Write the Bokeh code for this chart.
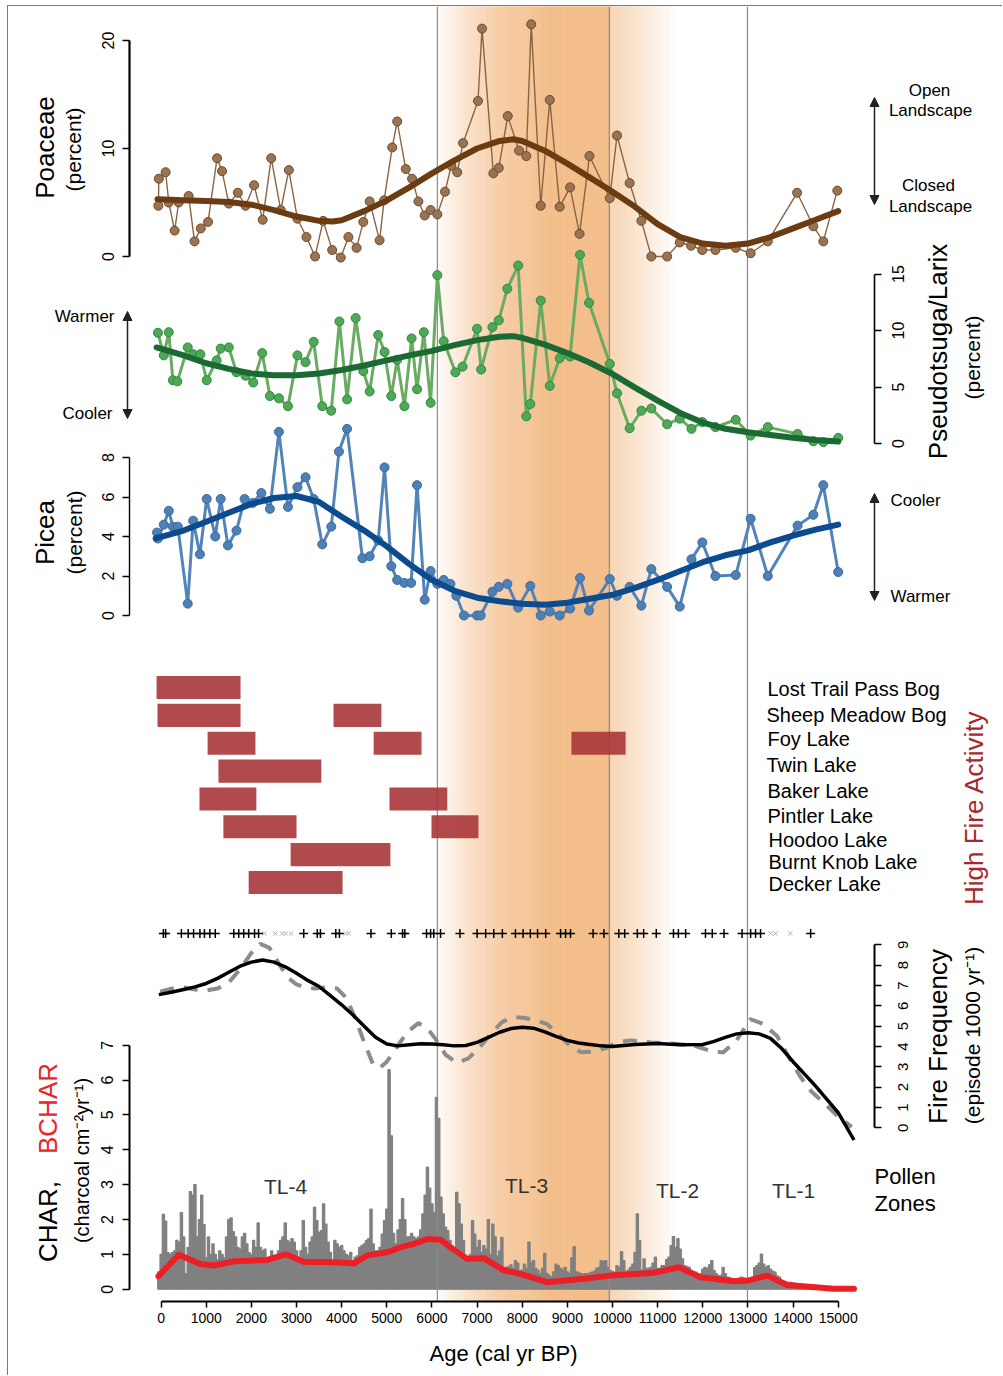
import math
import numpy as np
from bokeh.plotting import figure
from bokeh.models import Range1d, LinearAxis, FixedTicker, Label, Arrow, NormalHead
from bokeh.embed import file_html
from bokeh.resources import INLINE

FONT = "Liberation Sans"

# ======================= DATA =======================
# Poaceae (percent)
poa_age = [-60, -50, 100, 170, 300, 390, 610, 740, 880, 1040, 1240, 1350, 1500, 1700, 1870,
           2060, 2250, 2440, 2650, 2830, 3020, 3220, 3410, 3590, 3790, 3980, 4150, 4330, 4480,
           4620, 4840, 4940, 5120, 5230, 5420, 5560, 5700, 5840, 5970, 6120, 6290, 6430, 6560,
           6690, 7020, 7110, 7360, 7480, 7680, 7930, 8090, 8200, 8410, 8610, 8830, 9060, 9270,
           9490, 9940, 10100, 10380, 10640, 10860, 11210, 11490, 11740, 11990, 12280, 12730,
           13060, 13440, 14090, 14450, 14670, 14980]
poa_val = [4.7, 7.2, 7.8, 5.0, 2.4, 5.0, 5.6, 1.4, 2.6, 3.2, 9.1, 7.9, 4.9, 5.9, 4.7,
           6.6, 3.4, 9.1, 4.3, 8.0, 3.5, 1.8, 0.0, 3.3, 0.6, -0.1, 1.8, 0.8, 3.2,
           5.1, 1.5, 5.2, 10.1, 12.5, 8.1, 7.2, 5.1, 3.8, 4.3, 3.9, 6.0, 8.4, 7.8,
           10.5, 14.4, 21.1, 7.7, 8.2, 13.0, 9.8, 9.3, 21.5, 4.7, 14.5, 4.6, 6.4, 2.1,
           9.3, 5.4, 11.2, 6.8, 3.3, 0.0, 0.0, 1.3, 1.0, 0.6, 0.6, 0.8,
           0.3, 1.4, 5.9, 2.8, 1.4, 6.1]
poa_s_age = [-80, 500, 1000, 1500, 2000, 2500, 3000, 3500, 3800, 4000, 4500, 5000, 5500, 6000,
             6500, 7000, 7500, 7800, 8000, 8500, 9000, 9500, 10000, 10500, 11000, 11500, 12000,
             12500, 13000, 13500, 14000, 14500, 15000]
poa_s_val = [5.3, 5.2, 5.15, 5.05, 4.8, 4.3, 3.7, 3.3, 3.25, 3.35, 4.2, 5.2, 6.4, 7.7,
             8.9, 10.0, 10.7, 10.85, 10.7, 9.8, 8.6, 7.3, 6.0, 4.6, 3.0, 1.8, 1.2,
             1.0, 1.2, 1.8, 2.6, 3.4, 4.2]

# Pseudotsuga/Larix (percent)
pse_age = [-70, 60, 170, 260, 360, 590, 710, 870, 1010, 1230, 1320, 1500, 1670, 1870, 2040,
           2240, 2410, 2610, 2810, 3020, 3200, 3380, 3570, 3770, 3950, 4120, 4310, 4480, 4620,
           4810, 4950, 5100, 5230, 5390, 5550, 5670, 5820, 5970, 6120, 6260, 6520, 6680, 7000,
           7090, 7340, 7480, 7670, 7910, 8090, 8180, 8410, 8610, 8830, 9060, 9280, 9480, 9940,
           10100, 10380, 10640, 10860, 11210, 11490, 11750, 11990, 12280, 12730, 13060, 13440,
           14100, 14450, 14670, 15000]
pse_val = [9.8, 7.8, 9.85, 5.6, 5.5, 8.5, 7.9, 7.9, 5.6, 7.35, 8.4, 8.5, 6.3, 6.0, 5.4,
           8.0, 4.2, 4.0, 3.3, 7.8, 7.2, 9.0, 3.3, 2.9, 10.8, 3.9, 11.1, 6.4, 4.6,
           9.6, 8.1, 4.2, 7.4, 3.3, 9.3, 4.8, 9.85, 3.6, 14.9, 9.05, 6.3, 6.8, 10.15,
           6.55, 10.3, 10.9, 13.7, 15.75, 2.4, 3.5, 12.65, 5.1, 7.55, 7.7, 16.7, 12.45, 7.05,
           4.45, 1.35, 2.9, 3.1, 1.7, 2.2, 1.3, 1.9, 1.45, 2.1, 0.7, 1.45,
           0.85, 0.2, 0.12, 0.5]
pse_s_age = [-100, 500, 1000, 1500, 2000, 2500, 3000, 3500, 4000, 4500, 5000, 5500, 6000, 6500,
             7000, 7500, 7800, 8000, 8500, 9000, 9500, 10000, 10500, 11000, 11500, 12000, 12500,
             13000, 13500, 14000, 14500, 15000]
pse_s_val = [8.5, 7.8, 7.1, 6.6, 6.2, 6.05, 6.05, 6.2, 6.5, 6.9, 7.35, 7.8, 8.2, 8.7,
             9.15, 9.45, 9.5, 9.35, 8.75, 8.0, 7.15, 6.15, 4.95, 3.8, 2.7, 1.85, 1.3,
             1.0, 0.75, 0.5, 0.3, 0.18]

# Picea (percent)
pic_age = [-90, -70, 60, 170, 260, 370, 590, 710, 860, 1010, 1200, 1320, 1480, 1670, 1850,
           2030, 2220, 2410, 2610, 2810, 3020, 3200, 3380, 3570, 3770, 3940, 4120, 4460, 4620,
           4810, 4950, 5100, 5230, 5390, 5540, 5670, 5840, 5970, 6120, 6260, 6410, 6540, 6710,
           7000, 7080, 7340, 7480, 7670, 7910, 8180, 8410, 8610, 8830, 9060, 9280, 9480, 9940,
           10100, 10380, 10640, 10860, 11210, 11490, 11750, 11990, 12280, 12730, 13060, 13440,
           14100, 14450, 14670, 15000]
pic_val = [4.2, 3.9, 4.6, 5.3, 4.5, 4.5, 0.6, 4.8, 3.1, 5.9, 4.0, 5.9, 3.55, 4.3, 5.9,
           5.7, 6.2, 5.4, 9.3, 5.5, 6.5, 7.0, 5.9, 3.6, 4.5, 8.3, 9.45, 2.9, 3.0,
           3.8, 7.5, 2.5, 1.8, 1.65, 1.65, 6.6, 0.8, 2.25, 1.6, 1.8, 1.6, 1.0, 0.0,
           0.0, 0.0, 1.2, 1.45, 1.6, 0.4, 1.5, 0.0, 0.2, 0.0, 0.35, 1.9, 0.25, 1.85,
           1.0, 1.45, 0.5, 2.35, 1.45, 0.45, 2.85, 3.7, 2.0, 2.05, 4.9, 2.0,
           4.55, 5.1, 6.6, 2.2]
pic_s_age = [-120, 500, 1000, 1500, 2000, 2500, 3000, 3500, 4000, 4500, 5000, 5500, 6000, 6500,
             7000, 7500, 8000, 8500, 9000, 9500, 10000, 10500, 11000, 11500, 12000, 12500, 13000,
             13500, 14000, 14500, 15000]
pic_s_val = [3.9, 4.3, 4.75, 5.2, 5.65, 5.95, 6.05, 5.75, 5.0, 4.3, 3.5, 2.6, 1.8, 1.25,
             0.9, 0.72, 0.6, 0.55, 0.65, 0.85, 1.05, 1.4, 1.8, 2.25, 2.7, 3.05, 3.3,
             3.7, 4.05, 4.35, 4.6]

# High fire activity periods per site row
site_names = ["Lost Trail Pass Bog", "Sheep Meadow Bog", "Foy Lake", "Twin Lake", "Baker Lake",
              "Pintler Lake", "Hoodoo Lake", "Burnt Knob Lake", "Decker Lake"]
fire_row = [0, 1, 1, 2, 2, 2, 3, 4, 4, 5, 5, 6, 7]
fire_start = [-100, -80, 3820, 1030, 4710, 9090, 1270, 850, 5060, 1380, 5990, 2870, 1940]
fire_end = [1760, 1760, 4880, 2090, 5770, 10290, 3550, 2110, 6340, 3000, 7030, 5080, 4020]

# Fire episodes (+) and insignificant peaks (x)
fire_plus = [50, 100, 450, 600, 720, 860, 960, 1080, 1200, 1610, 1720, 1830, 1940, 2070, 2160,
             3160, 3460, 3530, 3870, 3950, 4650, 5100, 5350, 5400, 5880, 5970, 6040, 6190, 6620,
             7000, 7190, 7370, 7560, 7850, 8020, 8180, 8340, 8520, 8850, 8960, 9070, 9570, 9810,
             10140, 10270, 10550, 10690, 10970, 11350, 11460, 11620, 12060, 12210, 12470, 12870,
             13060, 13170, 13280, 14390]
fire_x = [2290, 2530, 2680, 2760, 2880, 4090, 4160, 13500, 13610, 13940]

# Fire frequency (episodes per 1000 yr): two smoothing windows
ff_age = [-50, 250, 500, 750, 1000, 1250, 1500, 1750, 2000, 2250, 2500, 2750, 3000, 3250, 3500,
          3750, 4000, 4250, 4500, 4750, 5000, 5250, 5500, 5750, 6000, 6250, 6500, 6750, 7000,
          7250, 7500, 7750, 8000, 8250, 8500, 8750, 9000, 9250, 9500, 9750, 10000, 10500, 11000,
          11500, 12000, 12250, 12500, 12750, 13000, 13250, 13500, 13750, 14000, 14250, 14500,
          14750, 15000, 15350]
ff_val = [6.55, 6.68, 6.8, 6.93, 7.1, 7.35, 7.65, 7.95, 8.15, 8.25, 8.15, 7.92, 7.6, 7.25, 6.95,
          6.5, 6.05, 5.55, 5.0, 4.45, 4.12, 4.03, 4.08, 4.13, 4.12, 4.08, 4.03, 4.05, 4.2,
          4.45, 4.7, 4.88, 4.95, 4.9, 4.72, 4.5, 4.3, 4.17, 4.1, 4.03, 4.0, 4.1, 4.15,
          4.08, 4.1, 4.25, 4.45, 4.62, 4.68, 4.62, 4.4, 3.9, 3.25, 2.65, 2.05,
          1.4, 0.75, -0.6]
ffd_age = [-20, 250, 500, 750, 1000, 1250, 1500, 1750, 2000, 2200, 2400, 2600, 2800, 3000, 3200,
           3400, 3650, 3900, 4100, 4300, 4500, 4700, 4850, 5000, 5200, 5450, 5700, 5900, 6100,
           6300, 6550, 6800, 7050, 7300, 7550, 7800, 8050, 8300, 8550, 8800, 9050, 9300, 9600,
           9900, 10100, 10400, 10850, 11300, 11800, 12150, 12450, 12750, 13050, 13350, 13650,
           13900, 14150, 14400, 14700, 15000, 15300]
ffd_val = [6.7, 6.85, 6.9, 6.8, 6.75, 6.85, 7.15, 7.8, 8.6, 9.05, 8.85, 8.1, 7.4, 7.05, 6.9,
           6.85, 6.9, 6.85, 6.4, 5.4, 4.2, 3.1, 2.95, 3.25, 3.9, 4.7, 5.15, 4.9, 4.3,
           3.6, 3.2, 3.4, 3.95, 4.6, 5.2, 5.45, 5.4, 5.3, 5.1, 4.6, 4.05, 3.72, 3.75,
           3.95, 4.2, 4.3, 4.2, 4.15, 4.05, 3.8, 3.7, 4.3, 5.35, 5.1, 4.5,
           3.5, 2.55, 1.8, 1.2, 0.55, 0.05]

# CHAR (charcoal cm-2 yr-1), 50-yr bins starting at -50 yr BP
char_start = -50
char_step = 50
char_val = [0.5,
    # 0-950
    1.0, 2.15, 1.95, 1.05, 1.0, 1.05, 1.1, 1.4, 1.35, 2.2, 1.5, 0.45, 1.2, 2.8, 2.7, 3.0, 1.5, 2.0, 2.7, 1.85,
    # 1000-1950
    0.9, 1.5, 1.0, 1.3, 1.0, 0.85, 1.1, 1.0, 0.9, 1.5, 2.0, 2.05, 1.65, 1.5, 1.2, 1.15, 1.5, 1.6, 1.3, 1.05,
    # 2000-2950
    1.0, 1.4, 1.2, 1.9, 1.2, 1.1, 1.15, 0.9, 0.8, 1.1, 0.95, 0.9, 1.1, 1.4, 1.5, 1.9, 1.4, 1.35, 1.45, 1.35,
    # 3000-3950
    1.1, 0.87, 1.1, 1.97, 1.2, 1.0, 1.35, 1.5, 2.35, 1.97, 1.63, 1.68, 2.45, 1.87, 1.35, 1.06, 0.82, 1.4, 1.3, 1.2,
    # 4000-4950
    1.25, 1.1, 1.0, 0.96, 1.06, 0.82, 0.92, 0.96, 1.2, 1.25, 1.3, 1.4, 1.45, 2.3, 1.3, 1.1, 1.1, 1.2, 1.58, 1.97,
    # 5000-5950
    2.3, 6.3, 4.4, 1.6, 1.3, 1.7, 2.0, 2.6, 2.0, 1.5, 1.5, 1.6, 1.5, 1.45, 1.5, 1.7, 2.16, 2.7, 3.5, 2.9,
    # 6000-6950
    2.45, 2.2, 5.5, 4.9, 2.64, 2.16, 1.78, 1.68, 1.4, 1.25, 1.15, 2.78, 2.45, 1.87, 1.4, 0.92, 0.82, 1.0, 1.97, 1.58,
    # 7000-7950
    1.2, 1.4, 1.06, 1.25, 1.15, 2.0, 1.0, 1.87, 1.5, 0.95, 1.1, 1.49, 0.63, 0.63, 0.65, 0.7, 0.6, 0.82, 0.75, 0.54,
    # 8000-8950
    0.55, 0.72, 0.6, 1.35, 0.75, 0.82, 0.6, 0.54, 0.44, 0.6, 1.03, 0.45, 0.4, 0.35, 0.5, 0.72, 0.68, 0.6, 0.55, 0.63,
    # 9000-9950
    0.5, 0.45, 0.9, 1.22, 0.5, 0.48, 0.45, 0.44, 0.45, 0.44, 0.47, 0.49, 0.52, 0.6, 0.63, 0.82, 0.8, 0.82, 0.63, 0.54,
    # 10000-10950
    0.5, 0.49, 0.68, 0.63, 1.08, 0.82, 0.5, 0.55, 0.63, 0.72, 1.06, 2.16, 1.4, 0.55, 0.87, 0.6, 0.6, 0.63, 0.75, 0.92,
    # 11000-11950
    0.6, 0.6, 0.68, 0.68, 0.85, 0.92, 1.25, 1.51, 1.2, 1.45, 1.15, 0.87, 0.68, 0.65, 0.63, 0.54, 0.5, 0.49, 0.44, 0.44,
    # 12000-12950
    0.58, 0.63, 0.6, 0.7, 0.82, 0.54, 0.45, 0.39, 0.4, 0.63, 0.45, 0.35, 0.33, 0.3, 0.3, 0.3, 0.32, 0.35, 0.33, 0.3,
    # 13000-13950
    0.28, 0.25, 0.3, 0.63, 0.68, 0.75, 1.01, 0.72, 0.63, 0.68, 0.58, 0.52, 0.49, 0.38, 0.35, 0.25, 0.22, 0.2, 0.2, 0.2,
    # 14000-14950
    0.18, 0.17, 0.15, 0.14, 0.13, 0.12, 0.11, 0.1, 0.1, 0.09, 0.08, 0.07, 0.07, 0.06, 0.06, 0.05, 0.05, 0.05, 0.04, 0.04,
    # 15000-15300
    0.04, 0.04, 0.03, 0.03, 0.03, 0.03, 0.03]

# BCHAR (background charcoal)
bchar_age = [-60, 390, 870, 1170, 1610, 2350, 2760, 3160, 3830, 4270, 4570, 5010, 5300, 5600,
             5900, 6190, 6410, 6780, 7150, 7590, 7960, 8550, 9360, 9950, 10910, 11470, 11950,
             12690, 12980, 13430, 13870, 14900, 15350]
bchar_val = [0.37, 0.99, 0.72, 0.68, 0.8, 0.84, 1.0, 0.79, 0.77, 0.74, 0.97, 1.06, 1.2, 1.3,
             1.44, 1.42, 1.2, 0.87, 0.89, 0.54, 0.44, 0.2, 0.3, 0.39, 0.47, 0.63, 0.34,
             0.23, 0.24, 0.39, 0.12, 0.01, 0.01]

# Pollen zone boundaries and labels
zone_bounds = [6120, 9930, 12990]
zone_names = ["TL-4", "TL-3", "TL-2", "TL-1"]

# orange band (warm/open period) intensity profile
band_age = [6120, 6190, 6790, 7520, 8250, 8630, 9930, 9931, 11440]
band_alpha = [0.0, 0.08, 0.44, 0.76, 0.9, 1.0, 1.0, 0.67, 0.0]

# axis ticks
poa_ticks = [0, 10, 20]
pic_ticks = [0, 2, 4, 6, 8]
char_ticks = [0, 1, 2, 3, 4, 5, 6, 7]
pse_ticks = [0, 5, 10, 15]
ff_ticks = [0, 1, 2, 3, 4, 5, 6, 7, 8, 9]
age_ticks = [0, 1000, 2000, 3000, 4000, 5000, 6000, 7000, 8000, 9000, 10000, 11000, 12000,
             13000, 14000, 15000]

# ======================= LAYOUT =======================
PAGE_X0, PAGE_Y0 = 8, 6          # canvas origin on the page (after CSS margin + border)
PAGE_W, PAGE_H = 1003, 1376
AGE0_PX, PX_PER_YR = 160.6, 0.04514   # page x of age 0, pixels per year
AXIS_L_PX, AXIS_R_PX, AXIS_B_PX = 129, 874, 1301
BAND_TOP, BAND_BOTTOM = 6, 1301


def age_at(px):
    return (px - AGE0_PX) / PX_PER_YR


W = PAGE_W - PAGE_X0
H = PAGE_H - PAGE_Y0

# value -> page-y mapping for each panel: y = base - k*value
PANEL = {
    "poa": (256.0, 10.8),
    "pse": (443.0, 11.3),
    "pic": (615.0, 19.75),
    "rows": (687.0, -27.86),
    "ff": (1127.3, 20.33),
    "char": (1288.7, 34.86),
}


def yrange(name):
    base, k = PANEL[name]
    return Range1d(start=(base - PAGE_H) / k, end=(base - PAGE_Y0) / k)


p = figure(width=W, height=H, x_range=Range1d(age_at(PAGE_X0), age_at(PAGE_W)),
           y_range=Range1d(PAGE_H, PAGE_Y0),
           output_backend="svg", toolbar_location=None, x_axis_location=None, y_axis_location=None,
           min_border_left=0, min_border_right=0, min_border_top=0, min_border_bottom=0,
           background_fill_color="white", border_fill_color="white", outline_line_color=None,
           margin=(5, 0, 0, 7),
           styles={"border-top": "1px solid #7a7a7a", "border-left": "1px solid #7a7a7a"})
p.xgrid.grid_line_color = None
p.ygrid.grid_line_color = None
p.extra_x_ranges = {"px": Range1d(PAGE_X0, PAGE_W)}
p.extra_y_ranges = {name: yrange(name) for name in PANEL}

# ---- orange band ----
edges = np.arange(band_age[0], band_age[-1] + 20, 20)
mids = (edges[:-1] + edges[1:]) / 2
alphas = np.interp(mids, band_age, band_alpha)
orange = np.array([243, 189, 137])
band_cols = ["#%02x%02x%02x" % tuple(int(round(c)) for c in (255 - (255 - orange) * a)) for a in alphas]
p.quad(left=edges[:-1], right=edges[1:], bottom=BAND_BOTTOM, top=BAND_TOP,
       fill_color=band_cols, line_color=band_cols, line_width=0.6)

# ---- CHAR ----
char_age = [char_start + i * char_step for i in range(len(char_val))]
p.vbar(x=char_age, top=char_val, bottom=0, width=char_step, y_range_name="char",
       fill_color="#808080", line_color="#808080", line_width=1.2)

# ---- zone lines ----
p.segment(x0=zone_bounds, x1=zone_bounds, y0=BAND_TOP, y1=BAND_BOTTOM, line_color="#8a8a8a", line_width=1.2)

# ---- BCHAR ----
p.line(bchar_age, bchar_val, y_range_name="char", line_color="#ec1f27", line_width=6,
       line_join="round", line_cap="round")

# ---- fire activity bars ----
p.hbar(y=fire_row, left=fire_start, right=fire_end, height=0.83, y_range_name="rows",
       fill_color="#a93639", fill_alpha=0.9, line_color=None)

# ---- fire frequency ----
p.line(ffd_age, ffd_val, y_range_name="ff", line_color="#8c8c8c", line_width=4, line_dash="14 10")
p.line(ff_age, ff_val, y_range_name="ff", line_color="black", line_width=3.5, line_join="round")
MARK_Y = 933
p.scatter(fire_x, [MARK_Y] * len(fire_x), marker="x", size=6, line_color="#b0b0b0", line_width=1)
p.scatter(fire_plus, [MARK_Y] * len(fire_plus), marker="cross", size=9, line_color="black", line_width=1.5)

# ---- pollen ----
p.line(poa_age, poa_val, y_range_name="poa", line_color="#8b6440", line_width=1.4)
p.scatter(poa_age, poa_val, y_range_name="poa", size=9, fill_color="#9a7452", line_color="#6d4a2a", line_width=1)
p.line(poa_s_age, poa_s_val, y_range_name="poa", line_color="#6b3c12", line_width=6, line_cap="round")

p.line(pse_age, pse_val, y_range_name="pse", line_color="#6aab62", line_width=3)
p.scatter(pse_age, pse_val, y_range_name="pse", size=9, fill_color="#4fa858", line_color="#2f8a3c", line_width=1)
p.line(pse_s_age, pse_s_val, y_range_name="pse", line_color="#1b6a34", line_width=6, line_cap="round")

p.line(pic_age, pic_val, y_range_name="pic", line_color="#5384b9", line_width=3)
p.scatter(pic_age, pic_val, y_range_name="pic", size=9, fill_color="#4e80b6", line_color="#3a6a9e", line_width=1)
p.line(pic_s_age, pic_s_val, y_range_name="pic", line_color="#0c4c8e", line_width=6, line_cap="round")


# ---- axes (all at fixed locations inside the canvas) ----
def style_axis(ax, size, lw=2.0, standoff=4):
    ax.axis_line_color = "black"
    ax.axis_line_width = lw
    ax.major_tick_line_color = "black"
    ax.major_tick_line_width = 1.5
    ax.major_tick_out = 7
    ax.major_tick_in = 0
    ax.minor_tick_line_color = None
    ax.major_label_text_font = FONT
    ax.major_label_text_font_size = f"{size}px"
    ax.major_label_text_color = "black"
    ax.major_label_standoff = standoff


def yaxis(name, side, ticks, size, lw, standoff=9):
    loc = age_at(AXIS_L_PX) if side == "left" else age_at(AXIS_R_PX)
    ax = LinearAxis(y_range_name=name, ticker=FixedTicker(ticks=ticks), bounds=(ticks[0], ticks[-1]),
                    fixed_location=loc, major_label_orientation="vertical")
    style_axis(ax, size, lw, standoff)
    p.add_layout(ax, side)
    return ax


yaxis("poa", "left", poa_ticks, 16, 2.2)
yaxis("pic", "left", pic_ticks, 16, 1.4)
yaxis("char", "left", char_ticks, 16, 2.0)
ax_pse = yaxis("pse", "right", pse_ticks, 16, 1.6)
ax_ff = yaxis("ff", "right", ff_ticks, 15, 2.0)
# right-hand tick labels read bottom-to-top (as on the left); drawn as labels at the tick values
ax_pse.major_label_text_color = None
ax_ff.major_label_text_color = None

ax_age = LinearAxis(ticker=FixedTicker(ticks=age_ticks), bounds=(age_ticks[0], age_ticks[-1]),
                    fixed_location=AXIS_B_PX)
style_axis(ax_age, 14, 2.0, 5)
ax_age.major_tick_out = 6
p.add_layout(ax_age, "below")


# ---- text labels ----
def lab(text, x, y, size, angle=0.0, align="center", color="black", y_range_name="default"):
    p.add_layout(Label(x=x, y=y, x_range_name="px", y_range_name=y_range_name, text=text,
                       text_font=FONT, text_font_size=f"{size}px", angle=angle, text_align=align,
                       text_baseline="middle", text_color=color))


R = math.pi / 2
for t in pse_ticks:
    lab(str(t), 897, t, 16, R, y_range_name="pse")
for t in ff_ticks:
    lab(str(t), 902, t, 15, R, y_range_name="ff")

lab("Age (cal yr BP)", 503, 1353, 22)
lab("Poaceae", 44, 147, 26, R)
lab("(percent)", 73, 149, 21, R)
lab("Picea", 44, 532, 26, R)
lab("(percent)", 74, 532, 21, R)
lab("Pseudotsuga/Larix", 937, 351, 26, R)
lab("(percent)", 972, 357, 21, R)
lab("Fire Frequency", 937, 1036, 26, R)
lab("(episode 1000 yr\u207b\u00b9)", 972, 1035, 21, R)
lab("High Fire Activity", 973, 807, 26, R, color="#a8262c")
lab("CHAR,", 47, 1221, 26, R)
lab("BCHAR", 47, 1108, 26, R, color="#ee2227")
lab("(charcoal cm\u207b\u00b2yr\u207b\u00b9)", 81, 1160, 20, R)

lab("Open", 929, 90, 17)
lab("Landscape", 930, 110, 17)
lab("Closed", 928, 185, 17)
lab("Landscape", 930, 206, 17)
lab("Warmer", 114, 316, 17, align="right")
lab("Cooler", 112, 413, 17, align="right")
lab("Cooler", 890, 500, 17, align="left")
lab("Warmer", 890, 596, 17, align="left")

site_y = [688, 714, 738, 764, 790, 815, 839, 861, 883]
site_x = [767, 766, 767, 766, 767, 767, 768, 768, 768]
for name, sx, sy in zip(site_names, site_x, site_y):
    lab(name, sx, sy, 20, align="left")

zone_x = [285, 526, 677, 793]
zone_y = [1186, 1185, 1190, 1190]
for name, zx, zy in zip(zone_names, zone_x, zone_y):
    lab(name, zx, zy, 21, color="#333333")

lab("Pollen", 874, 1176, 22, align="left")
lab("Zones", 874, 1203, 22, align="left")


# ---- arrows ----
def arrow(x, y0, y1):
    p.add_layout(Arrow(x_start=x, y_start=y0, x_end=x, y_end=y1, x_range_name="px",
                       start=NormalHead(size=9, fill_color="#222222", line_color="#222222"),
                       end=NormalHead(size=9, fill_color="#222222", line_color="#222222"),
                       line_width=1.5, line_color="#222222"))


arrow(874, 204, 97)
arrow(127, 418, 311)
arrow(874, 600, 493)

open("out.html", "w").write(file_html(p, INLINE))
